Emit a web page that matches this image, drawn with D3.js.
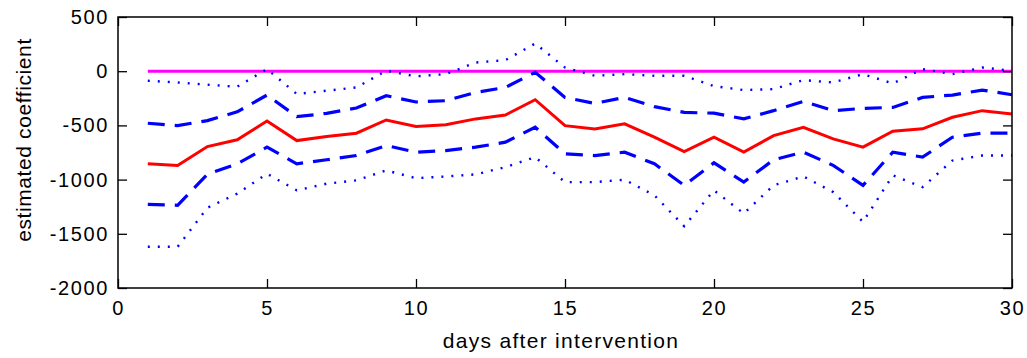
<!DOCTYPE html>
<html><head><meta charset="utf-8">
<script src="https://cdn.jsdelivr.net/npm/d3@7"></script>
<style>body{margin:0;background:#fff}svg text{font-family:"Liberation Sans",Arial,sans-serif;fill:#000}</style>
</head><body><svg id="c" width="1027" height="358"></svg>
<script>
const days = d3.range(1, 31);
const estimate = [-854,-870,-695,-633,-460,-640,-603,-572,-450,-510,-493,-440,-404,-263,-502,-532,-486,-609,-741,-609,-747,-594,-517,-624,-701,-554,-532,-425,-364,-394];
const upperCI = [-480,-502,-456,-375,-220,-419,-389,-340,-226,-284,-272,-196,-150,-10,-242,-297,-242,-327,-380,-387,-440,-364,-279,-364,-343,-334,-242,-220,-174,-217];
const lowerCI = [-1228,-1237,-950,-854,-701,-854,-817,-778,-686,-747,-732,-701,-655,-517,-762,-778,-747,-854,-1053,-845,-1023,-817,-747,-869,-1053,-747,-793,-609,-572,-572];
const upperBand = [-88,-104,-125,-143,19,-210,-180,-150,4,-47,-27,80,102,255,34,-42,-27,-42,-42,-138,-174,-165,-82,-104,-27,-113,19,-27,34,4];
const lowerBand = [-1620,-1620,-1260,-1130,-946,-1099,-1038,-1007,-915,-987,-971,-952,-885,-793,-1023,-1023,-1001,-1145,-1430,-1099,-1313,-1053,-971,-1115,-1390,-961,-1069,-824,-778,-778];
const zeroLine = days.map(() => 0);
const xTicks = [0,5,10,15,20,25,30];
const yTicks = [500,0,-500,-1000,-1500,-2000];

const svg = d3.select("#c");
const L=118, R=1012, T=17, B=288;
const x = d3.scaleLinear().domain([0,30]).range([L,R]);
const y = d3.scaleLinear().domain([-2000,500]).range([B,T]);
const line = d3.line().x((d,i)=>x(days[i])).y(d=>y(d));

const series = [
  {v: zeroLine, c:"#ff00ff", w:3, da:null},
  {v: upperBand, c:"#0000ff", w:2.4, da:"2,8"},
  {v: lowerBand, c:"#0000ff", w:2.4, da:"2,8"},
  {v: upperCI, c:"#0000ff", w:3.2, da:"17,10"},
  {v: lowerCI, c:"#0000ff", w:3.2, da:"17,10"},
  {v: estimate, c:"#ff0000", w:3, da:null}
];
series.forEach(s=>{
  svg.append("path").attr("d", line(s.v)).attr("fill","none")
    .attr("stroke", s.c).attr("stroke-width", s.w)
    .attr("stroke-dasharray", s.da);
});

const fmt = d => String(d);
const tl = 9;
const gx = svg.append("g").attr("transform",`translate(0,${B})`)
  .call(d3.axisBottom(x).tickValues(xTicks).tickSize(-tl).tickPadding(13).tickFormat(fmt));
const gxt = svg.append("g").attr("transform",`translate(0,${T})`)
  .call(d3.axisTop(x).tickValues(xTicks).tickSize(-tl).tickFormat(""));
const gy = svg.append("g").attr("transform",`translate(${L},0)`)
  .call(d3.axisLeft(y).tickValues(yTicks).tickSize(-tl).tickPadding(9).tickFormat(fmt));
const gyr = svg.append("g").attr("transform",`translate(${R},0)`)
  .call(d3.axisRight(y).tickValues(yTicks).tickSize(-tl).tickFormat(""));
[gx,gxt,gy,gyr].forEach(g=>{
  g.select(".domain").remove();
  g.selectAll(".tick line").attr("stroke","#000").attr("stroke-width",1.3);
  g.selectAll("text").attr("font-size",20).attr("letter-spacing","1.6px").attr("font-family",null).attr("fill","#000");
});
svg.append("rect").attr("x",L).attr("y",T).attr("width",R-L).attr("height",B-T)
  .attr("fill","none").attr("stroke","#000").attr("stroke-width",1.5);

svg.append("text").attr("x",561).attr("y",348).attr("text-anchor","middle")
  .attr("font-size",21).attr("letter-spacing","1.3px").text("days after intervention");
svg.append("text").attr("transform",`translate(31,140) rotate(-90)`)
  .attr("text-anchor","middle").attr("font-size",21).attr("letter-spacing","0.6px").text("estimated coefficient");
</script></body></html>
